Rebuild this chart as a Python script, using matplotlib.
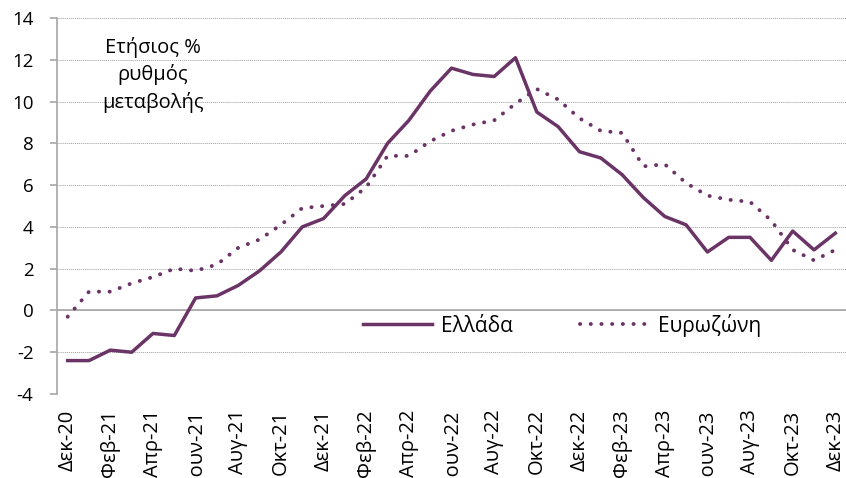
import numpy as np
import matplotlib
matplotlib.use('Agg')
import matplotlib.pyplot as plt

plt.rcParams['font.family'] = ['Open Sans', 'DejaVu Sans']
plt.rcParams['axes.unicode_minus'] = False

# monthly, Dec-20 .. Dec-23
months = ['Δεκ-20', 'Ιαν-21', 'Φεβ-21', 'Μαρ-21', 'Απρ-21', 'Μαϊ-21', 'Ιουν-21', 'Ιουλ-21',
          'Αυγ-21', 'Σεπ-21', 'Οκτ-21', 'Νοε-21', 'Δεκ-21', 'Ιαν-22', 'Φεβ-22', 'Μαρ-22',
          'Απρ-22', 'Μαϊ-22', 'Ιουν-22', 'Ιουλ-22', 'Αυγ-22', 'Σεπ-22', 'Οκτ-22', 'Νοε-22',
          'Δεκ-22', 'Ιαν-23', 'Φεβ-23', 'Μαρ-23', 'Απρ-23', 'Μαϊ-23', 'Ιουν-23', 'Ιουλ-23',
          'Αυγ-23', 'Σεπ-23', 'Οκτ-23', 'Νοε-23', 'Δεκ-23']
greece = [-2.4, -2.4, -1.9, -2.0, -1.1, -1.2, 0.6, 0.7, 1.2, 1.9, 2.8, 4.0, 4.4,
          5.5, 6.3, 8.0, 9.1, 10.5, 11.6, 11.3, 11.2, 12.1, 9.5, 8.8, 7.6,
          7.3, 6.5, 5.4, 4.5, 4.1, 2.8, 3.5, 3.5, 2.4, 3.8, 2.9, 3.7]
eurozone = [-0.3, 0.9, 0.9, 1.3, 1.6, 2.0, 1.9, 2.2, 3.0, 3.4, 4.1, 4.9, 5.0,
            5.1, 5.9, 7.4, 7.4, 8.1, 8.6, 8.9, 9.1, 9.9, 10.6, 10.1, 9.2,
            8.6, 8.5, 6.9, 7.0, 6.1, 5.5, 5.3, 5.2, 4.3, 2.9, 2.4, 2.9]

colour = '#6b3466'
x = np.arange(len(months))

fig = plt.figure(figsize=(8.46, 4.78), dpi=100)
ax = fig.add_axes([0.0674, 0.1757, 0.9326, 0.7866])

ax.plot(x, greece, color=colour, lw=2.5, label='Ελλάδα')
ax.plot(x, eurozone, color=colour, lw=2.8, linestyle=(0, (0.05, 2.7)),
        dash_capstyle='round', label='Ευρωζώνη')

ax.set_xlim(-0.5, len(months) - 0.5)
ax.set_ylim(-4, 14)
ax.set_yticks(range(-4, 15, 2))
ax.yaxis.grid(True, color='#a0a0a0', linestyle=(0, (1, 1)), lw=0.7)
ax.set_axisbelow(True)
ax.axhline(0, color='#a6a6a6', lw=1.2, zorder=1)

for s in ['top', 'right', 'bottom']:
    ax.spines[s].set_visible(False)
ax.spines['left'].set_color('#a6a6a6')
ax.spines['left'].set_linewidth(1.2)

ax.set_xticks(x[::2])
ax.set_xticklabels(months[::2], rotation=90, fontsize=14.5)
ax.tick_params(axis='x', length=0, pad=11)
ax.tick_params(axis='y', which='major', direction='out', length=5,
               width=1.2, color='#a6a6a6', pad=12, labelsize=13.5)

ax.text(4, 13.1, 'Ετήσιος %\nρυθμός\nμεταβολής', ha='center', va='top',
        fontsize=14.5, linespacing=1.4)

ax.legend(loc='center', bbox_to_anchor=(0.64, 0.183), ncol=2, frameon=False,
          fontsize=15, handlelength=3.3, columnspacing=3.2, handletextpad=0.45)

fig.savefig('out.png', dpi=100)
